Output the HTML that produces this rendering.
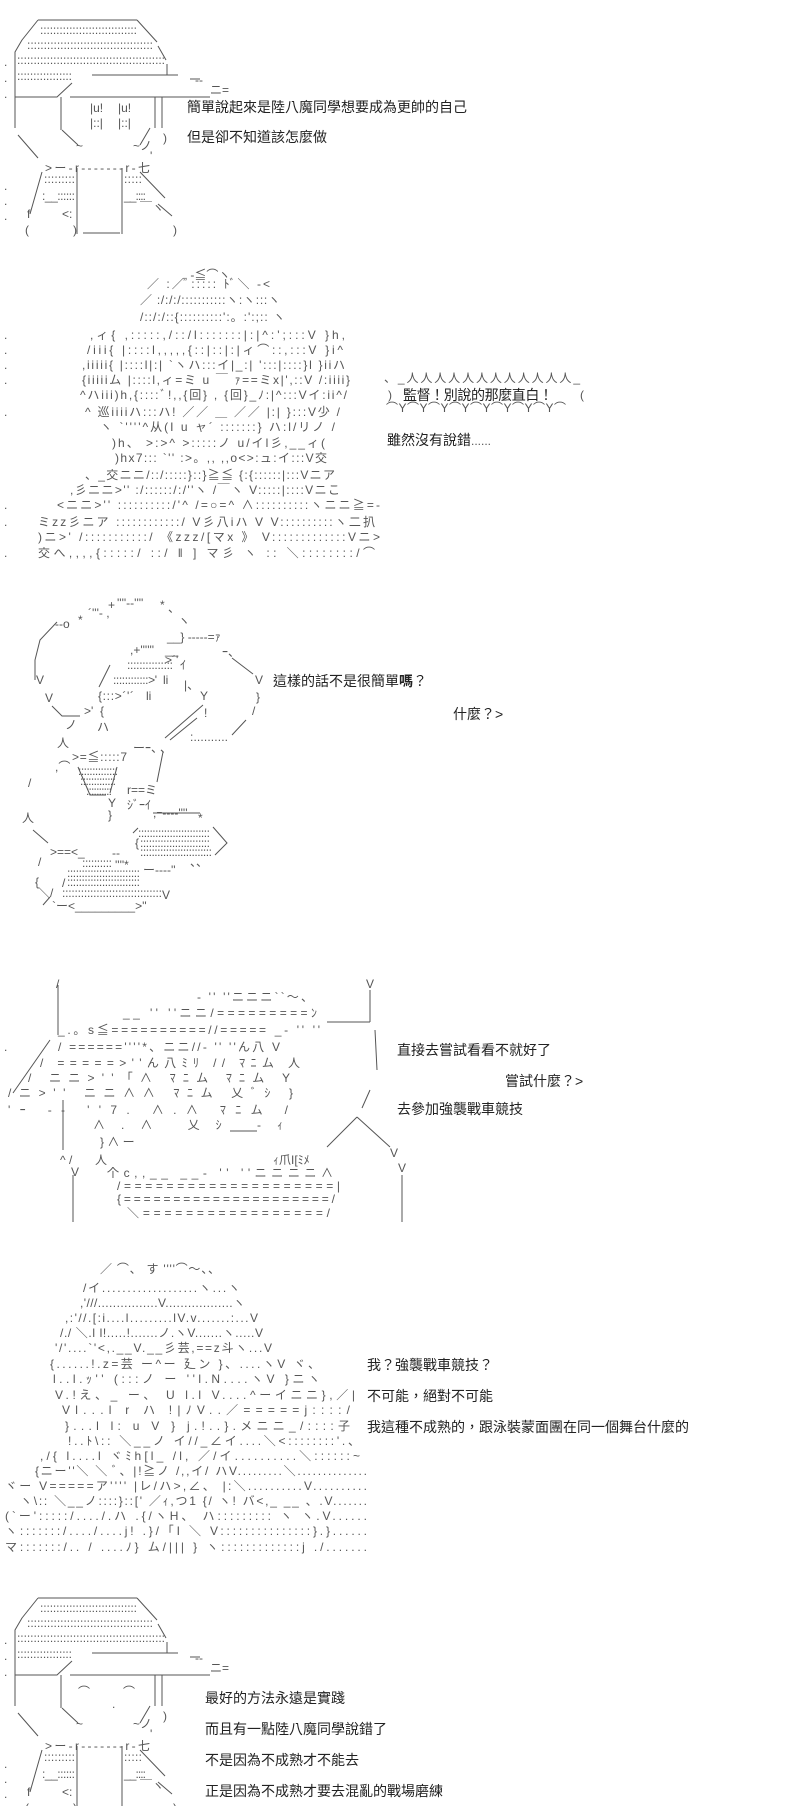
<!DOCTYPE html>
<html><head><meta charset="utf-8"><style>
html,body{margin:0;padding:0;background:#fff;}
svg{display:block;}
.a{font-family:"Liberation Sans","Noto Sans CJK JP",sans-serif;font-size:12px;fill:#555;}
.d{font-family:"Liberation Sans","Noto Sans CJK TC",sans-serif;font-size:14px;fill:#222;}
.s{stroke:#555;stroke-width:1;fill:none;}
</style></head><body>
<svg width="800" height="1806" viewBox="0 0 800 1806" xmlns="http://www.w3.org/2000/svg">
<rect width="800" height="1806" fill="#fff"/>

<!-- ===== PANEL 1 ===== -->
<g id="kidbody">
<path class="s" d="M38 20H137 M38 20L22 40 M22 40L15 52V128 M137 20L157 42 M158 46L166 60 M92 75H178 M167 64V75 M190 79H200 M15 97H57 L72 83 M70 97H210 M61 97V130 M155 97V128 M162 97V128 M62 130L78 145 M150 128L140 145 M18 135L38 158 M42 172L30 214 M77 168V234 M122 168V234 M140 172L165 198 M158 204L172 216 M83 233H120"/>
<text class="a" x="40" y="34" textLength="97" lengthAdjust="spacing">::::::::::::::::::::::::::::::</text>
<text class="a" x="27" y="49" textLength="126" lengthAdjust="spacing">::::::::::::::::::::::::::::::::::::::</text>
<text class="a" x="17" y="64" textLength="148" lengthAdjust="spacing">:::::::::::::::::::::::::::::::::::::::::::::</text>
<text class="a" x="17" y="80" textLength="55" lengthAdjust="spacing">:::::::::::::::::</text>
<text class="a" x="195" y="84">‐‐</text>
<text class="a" x="210" y="94">ニ=</text>
<text class="a" x="76" y="150">~</text>
<text class="a" x="133" y="150">~ノ</text>
<text class="a" x="163" y="142">)</text>
<text class="a" x="150" y="160">'</text>
<text class="a" x="45" y="172" textLength="105" lengthAdjust="spacing">&gt;ー-r-------r-七</text>
<text class="a" x="44" y="183" textLength="31" lengthAdjust="spacing">:::::::::</text>
<text class="a" x="42" y="200" textLength="33" lengthAdjust="spacing">:__::::::</text>
<text class="a" x="124" y="183" textLength="18" lengthAdjust="spacing">:::::</text>
<text class="a" x="124" y="200" textLength="22" lengthAdjust="spacing">__::::</text>
<text class="a" x="140" y="212">￣ヽ</text>
<text class="a" x="27" y="218">f</text>
<text class="a" x="62" y="218">&lt;:</text>
<text class="a" x="25" y="234">(</text>
<text class="a" x="73" y="234">)</text>
<text class="a" x="173" y="234">)</text>
<text class="a" x="4" y="66">.</text><text class="a" x="4" y="82">.</text><text class="a" x="4" y="98">.</text>
<text class="a" x="4" y="190">.</text><text class="a" x="4" y="205">.</text><text class="a" x="4" y="220">.</text>
</g>
<text class="a" x="90" y="112">|u!</text><text class="a" x="118" y="112">|u!</text>
<text class="a" x="90" y="127">|::|</text><text class="a" x="118" y="127">|::|</text>
<text class="d" x="187" y="112">簡單說起來是陸八魔同學想要成為更帥的自己</text>
<text class="d" x="187" y="142">但是卻不知道該怎麼做</text>

<!-- ===== PANEL 2 ===== -->
<g class="a">
<text x="183" y="279">„ -≦⌒ヽ</text>
<text x="147" y="288" textLength="123" lengthAdjust="spacing">／ :／ ::::: ﾄﾞ＼  -&lt;</text>
<text x="140" y="304" textLength="140" lengthAdjust="spacing">／ :/:/:/:::::::::::ヽ:ヽ:::ヽ</text>
<text x="140" y="321" textLength="145" lengthAdjust="spacing">/::/:/::{::::::::::':。:':;:: ヽ</text>
<text x="90" y="339" textLength="255" lengthAdjust="spacing">,ィ{    ,:::::,/::/l:::::::|:|^:';:::V     }h,</text>
<text x="87" y="354" textLength="256" lengthAdjust="spacing">/iii{    |::::l,,,,,{::|::|:|ィ⌒::,:::V    }i^</text>
<text x="82" y="369" textLength="263" lengthAdjust="spacing">,iiiii{    |::::l|:| `ヽハ:::イ|_:| ':::|::::}l   }iiハ</text>
<text x="82" y="384" textLength="268" lengthAdjust="spacing">{iiiiiム   |::::l,ィ=ミ  u ￣ ｧ==ミx|',::V   /:iiii}</text>
<text x="80" y="399" textLength="267" lengthAdjust="spacing">^ハiii)h,{::::ﾞ!,,{回}   ,    {回}_ﾉ:|^:::Vイ:ii^/</text>
<text x="85" y="416" textLength="255" lengthAdjust="spacing">^ 巡iiiiハ:::ハ! ／／    ＿  ／／  |:|  }:::V少 /</text>
<text x="100" y="431" textLength="235" lengthAdjust="spacing">ヽ  `''''^从(I  u   ャ´ :::::::}    ハ:l/リノ   /</text>
<text x="112" y="447" textLength="213" lengthAdjust="spacing">)h、  &gt;:&gt;^      &gt;:::::ノ     u/イl彡,__ィ(</text>
<text x="115" y="462" textLength="212" lengthAdjust="spacing">)hx7::: `'' :&gt;。,,   ,,o&lt;&gt;:ュ:イ:::V交</text>
<text x="85" y="479" textLength="250" lengthAdjust="spacing">、_交ニニ/::/:::::}::}≧≦ {:{::::::|:::Vニア</text>
<text x="70" y="494" textLength="270" lengthAdjust="spacing">,彡ニニ&gt;'' :/::::::/:/''ヽ /￣ヽ V:::::|::::Vニこ</text>
<text x="57" y="509" textLength="323" lengthAdjust="spacing">&lt;ニニ&gt;'' ::::::::::/'^  /=○=^  ∧::::::::::ヽニニ≧=-</text>
<text x="38" y="526" textLength="337" lengthAdjust="spacing">ミzz彡ニア ::::::::::::/  V彡八iハ V   V::::::::::ヽ二扒</text>
<text x="38" y="541" textLength="342" lengthAdjust="spacing">)ニ&gt;' /:::::::::::/     《zzz/[マx 》   V:::::::::::::Vニ&gt;</text>
<text x="38" y="557" textLength="337" lengthAdjust="spacing">交へ,,,,{:::::/ ::/        ‖  ] マ彡        ヽ :: ＼::::::::/⌒</text>
<text x="4" y="339">.</text><text x="4" y="354">.</text><text x="4" y="369">.</text><text x="4" y="384">.</text><text x="4" y="416">.</text><text x="4" y="509">.</text><text x="4" y="526">.</text><text x="4" y="557">.</text>
</g>
<text class="a" x="384" y="382" textLength="196" lengthAdjust="spacing">、_人人人人人人人人人人人人_</text>
<text class="a" x="388" y="399">)</text>
<text class="d" x="403" y="400" textLength="150" lengthAdjust="spacing">監督！別說的那麼直白！</text>
<text class="a" x="580" y="399">(</text>
<text class="a" x="386" y="412" textLength="180" lengthAdjust="spacing">⌒Y⌒Y⌒Y⌒Y⌒Y⌒Y⌒Y⌒Y⌒</text>
<text class="d" x="387" y="445">雖然沒有說錯</text><text class="a" x="471" y="445">......</text>

<!-- ===== PANEL 3 ===== -->
<g class="a">
<text x="55" y="628">‐-o</text><text x="78" y="624">*</text><text x="88" y="617">´'''‐ ,</text><text x="108" y="609">+</text>
<text x="117" y="607">''''‐‐''''</text><text x="160" y="609">*</text><text x="168" y="612">、</text><text x="178" y="625">ヽ</text>
<text x="167" y="641">__} -----=ｧ</text>
<text x="130" y="654">,+''''''</text><text x="165" y="654">__</text>
<text x="127" y="669" textLength="46" lengthAdjust="spacing">:::::::::::::::</text><text x="180" y="669">ｲ</text>
<text x="113" y="684" textLength="44" lengthAdjust="spacing">::::::::::::&gt;'</text><text x="163" y="684">li</text><text x="184" y="689">|、</text>
<text x="98" y="700" textLength="36" lengthAdjust="spacing">{:::&gt;´'´</text><text x="146" y="700">li</text><text x="200" y="700">Y</text>
<text x="165" y="664">&gt;´'</text><text x="222" y="656">ｰ、</text>
<text x="36" y="684">V</text><text x="45" y="702">V</text><text x="84" y="715">&gt;'</text><text x="100" y="715">{</text>
<text x="97" y="731">ハ</text><text x="65" y="729">ノ</text><text x="57" y="747">人</text>
<text x="204" y="717">!</text><text x="255" y="684">V</text><text x="256" y="701">}</text><text x="252" y="715">/</text>
<text x="190" y="741" textLength="38" lengthAdjust="spacing">:..........</text>
<text x="133" y="752">ーｰ、</text><text x="160" y="752">、</text>
<text x="72" y="761" textLength="55" lengthAdjust="spacing">&gt;=≦:::::7</text>
<text x="55" y="771">,⌒</text>
<text x="78" y="775" textLength="40" lengthAdjust="spacing">::::::::::::::</text>
<text x="80" y="785" textLength="36" lengthAdjust="spacing">:::::::::::::</text>
<text x="86" y="795" textLength="26" lengthAdjust="spacing">::::::::::</text>
<text x="127" y="794">r==ミ</text><text x="127" y="809">ｼﾞｰｲ</text>
<text x="108" y="807">Y</text><text x="108" y="819">}</text>
<text x="22" y="822">人</text><text x="28" y="787">/</text>
<text x="153" y="817">,ｰ‐‐‐‐''''</text><text x="198" y="822">*</text>
<text x="138" y="837" textLength="72" lengthAdjust="spacing">:::::::::::::::::::::::::</text>
<text x="135" y="847">{</text><text x="140" y="847" textLength="70" lengthAdjust="spacing">::::::::::::::::::::::::</text>
<text x="140" y="856" textLength="72" lengthAdjust="spacing">:::::::::::::::::::::::::</text>
<text x="50" y="856">&gt;==&lt;_</text><text x="112" y="857">‐‐</text>
<text x="82" y="867" textLength="30" lengthAdjust="spacing">::::::::::</text><text x="115" y="869">''''*</text>
<text x="143" y="874">ー‐‐‐‐''</text><text x="190" y="866">、、</text>
<text x="38" y="866">/</text><text x="35" y="886">{</text>
<text x="67" y="877" textLength="73" lengthAdjust="spacing">:::::::::::::::::::::::::</text>
<text x="62" y="887">/</text><text x="67" y="886" textLength="73" lengthAdjust="spacing">:::::::::::::::::::::::::</text>
<text x="38" y="897">＼/</text><text x="62" y="897" textLength="100" lengthAdjust="spacing">::::::::::::::::::::::::::::::::</text><text x="162" y="899">V</text>
<text x="52" y="910">`ー&lt;_________&gt;''</text>
</g>
<path class="s" d="M57 622L40 640L35 660V680 M52 706L62 716H80 M110 665L99 687 M203 705L165 738 M197 718L170 740 M232 658L253 674 M246 720L232 735 M163 752L157 782 M78 767L90 795H106 M117 767L110 793 M33 830L48 843 M153 813H200 M133 833L138 828 M213 827L227 843L215 855 M43 905L50 897"/>
<text class="d" x="273" y="686">這樣的話不是很簡單<tspan font-weight="bold">嗎</tspan>？</text>
<text class="d" x="453" y="719">什麼？&gt;</text>

<!-- ===== PANEL 4 ===== -->
<path class="s" d="M58 985V1035 M50 1040L13 1093 M370 990V1022 M327 1022H370 M370 1090L362 1108 M357 1117L327 1147 M357 1117L390 1147 M402 1175V1222 M63 1100V1150 M73 1175V1222 M230 1131H257 M375 1030L377 1070"/>
<g class="a">
<text x="56" y="988">/</text><text x="366" y="988">V</text>
<text x="197" y="1001" textLength="116" lengthAdjust="spacing">‐  '' ''ニニニ``～、</text>
<text x="123" y="1017" textLength="194" lengthAdjust="spacing">__ '' ''ニニ/=========ﾝ</text>
<text x="58" y="1034" textLength="262" lengthAdjust="spacing">_.。s≦==========//=====  _‐ '' ''</text>
<text x="58" y="1051" textLength="222" lengthAdjust="spacing">/ ======''''*、ニニ//‐ '' ''ん八 V</text>
<text x="40" y="1067" textLength="260" lengthAdjust="spacing">/ =====&gt;''ん八ﾐﾘ   //          ﾏﾆム   人</text>
<text x="28" y="1082" textLength="262" lengthAdjust="spacing">/ ニニ&gt;''「∧      ﾏﾆム                ﾏﾆム Y</text>
<text x="8" y="1097" textLength="285" lengthAdjust="spacing">/ニ&gt;'' ニニ∧∧     ﾏﾆム              乂ﾞｼ    }</text>
<text x="8" y="1114" textLength="280" lengthAdjust="spacing">'ｰ  ‐‐  ''7.   ∧.∧    ﾏﾆム                       /</text>
<text x="93" y="1129" textLength="190" lengthAdjust="spacing">∧.∧     乂ｼ                          ‐ｨ</text>
<text x="100" y="1146">}    ∧ ー</text>
<text x="60" y="1164">^  /</text><text x="95" y="1164">人</text><text x="273" y="1164">ｨ爪I[ﾐﾒ</text>
<text x="71" y="1176">V</text>
<text x="107" y="1177" textLength="226" lengthAdjust="spacing">个c,,__        __‐ '' ''ニニニニ∧</text>
<text x="117" y="1190" textLength="223" lengthAdjust="spacing">/====================|</text>
<text x="117" y="1203" textLength="218" lengthAdjust="spacing">{=====================/</text>
<text x="127" y="1217" textLength="203" lengthAdjust="spacing">＼=================/</text>
<text x="390" y="1157">V</text><text x="398" y="1172">V</text>
<text x="4" y="1051">.</text>
</g>
<text class="d" x="397" y="1055">直接去嘗試看看不就好了</text>
<text class="d" x="505" y="1086">嘗試什麼？&gt;</text>
<text class="d" x="397" y="1114">去參加強襲戰車競技</text>

<!-- ===== PANEL 5 ===== -->
<g class="a">
<text x="100" y="1273" textLength="120" lengthAdjust="spacing">／  ⌒、 す  ''''⌒～、、</text>
<text x="83" y="1292" textLength="157" lengthAdjust="spacing">/イ...................ヽ...ヽ</text>
<text x="80" y="1307" textLength="165" lengthAdjust="spacing">,'///................V..................ヽ</text>
<text x="65" y="1322" textLength="193" lengthAdjust="spacing">,:'//.[:i....l.........lV.v.......:...V</text>
<text x="60" y="1337" textLength="203" lengthAdjust="spacing">/./ ＼.l l!.....!.......ノ.ヽV.......ヽ.....V</text>
<text x="55" y="1352" textLength="217" lengthAdjust="spacing">'/'....`'&lt;,.__V.__彡芸,==z斗ヽ...V</text>
<text x="50" y="1368" textLength="270" lengthAdjust="spacing">{......!.z=芸 ー^ー  廴ン    }、....ヽV     ヾ、</text>
<text x="53" y="1383" textLength="267" lengthAdjust="spacing">l..l.ｯ''  (:::ノ     ー   ''l.N....ヽV    }ニヽ</text>
<text x="55" y="1399" textLength="300" lengthAdjust="spacing">V.!え、_   ー、   U   l.l V....^ーイニニ},／|</text>
<text x="62" y="1414" textLength="288" lengthAdjust="spacing">Vl...l      r       ハ       !|ﾉV..／=====j::::/</text>
<text x="65" y="1430" textLength="285" lengthAdjust="spacing">}...l l: u    V         }     j.!..}.メニニ_/::::子</text>
<text x="68" y="1445" textLength="292" lengthAdjust="spacing">!..ﾄ\::     ＼__ノ    イ//_∠イ....＼&lt;::::::::'.、</text>
<text x="40" y="1460" textLength="320" lengthAdjust="spacing">,/{    l....l ヾﾐh[l_    /l,     ／/イ..........＼::::::~</text>
<text x="35" y="1475" textLength="332" lengthAdjust="spacing">{ニー''＼  ＼ ﾞ、|!≧ノ /,,イ/    ハV.........＼..............</text>
<text x="5" y="1490" textLength="362" lengthAdjust="spacing">ヾー V=====ア''''  |レ/ハ&gt;,∠、 |:＼..........V..........</text>
<text x="20" y="1505" textLength="347" lengthAdjust="spacing">ヽ\:: ＼__ノ::::}::[' ／ｨ,つ1 {/   ヽ! バ&lt;,_ __ 、.V.......</text>
<text x="5" y="1520" textLength="362" lengthAdjust="spacing">(`ー':::::/..../.ハ   .{/ヽH、     ハ:::::::::    ヽ ヽ.V......</text>
<text x="5" y="1535" textLength="362" lengthAdjust="spacing">ヽ:::::::/..../....j!   .}/「I   ＼    V:::::::::::::::}.}......</text>
<text x="5" y="1551" textLength="362" lengthAdjust="spacing">マ:::::::/.. / ....ﾉ}    ム/|||   }      ヽ:::::::::::::j ./.......</text>
</g>
<text class="d" x="367" y="1370">我？強襲戰車競技？</text>
<text class="d" x="367" y="1401">不可能，絕對不可能</text>
<text class="d" x="367" y="1432">我這種不成熟的，跟泳裝蒙面團在同一個舞台什麼的</text>

<!-- ===== PANEL 6 ===== -->
<use href="#kidbody" transform="translate(0,1578)"/>
<text class="a" x="78" y="1696">⌒</text><text class="a" x="123" y="1696">⌒</text><text class="a" x="112" y="1708">.</text>
<text class="d" x="205" y="1703">最好的方法永遠是實踐</text>
<text class="d" x="205" y="1734">而且有一點陸八魔同學說錯了</text>
<text class="d" x="205" y="1765">不是因為不成熟才不能去</text>
<text class="d" x="205" y="1796">正是因為不成熟才要去混亂的戰場磨練</text>
</svg>
</body></html>
